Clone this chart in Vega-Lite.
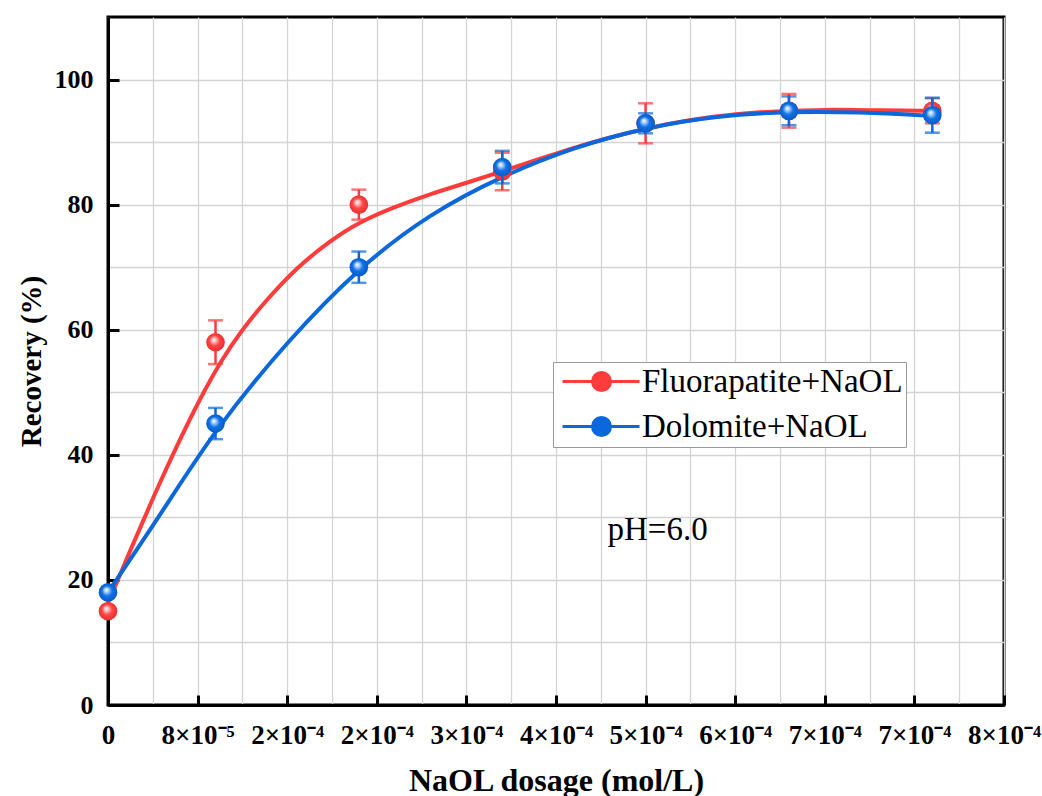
{
  "$schema": "https://vega.github.io/schema/vega-lite/v6.json",
  "width": 896,
  "height": 688,
  "autosize": {"type": "none"},
  "padding": {"left": 108, "top": 17, "right": 38, "bottom": 91},
  "background": "white",
  "config": {
    "view": {"stroke": "black", "strokeWidth": 3},
    "font": "Liberation Serif"
  },
  "datasets": {
    "curves": [
      {"s": "Fluorapatite+NaOL", "x": 0, "y": 16.3},
      {"s": "Fluorapatite+NaOL", "x": 0.00002054, "y": 25},
      {"s": "Fluorapatite+NaOL", "x": 0.00004107, "y": 33.5},
      {"s": "Fluorapatite+NaOL", "x": 0.00006161, "y": 41.5},
      {"s": "Fluorapatite+NaOL", "x": 0.00008214, "y": 49},
      {"s": "Fluorapatite+NaOL", "x": 0.00010179, "y": 55.3},
      {"s": "Fluorapatite+NaOL", "x": 0.00011964, "y": 60},
      {"s": "Fluorapatite+NaOL", "x": 0.00014018, "y": 64.5},
      {"s": "Fluorapatite+NaOL", "x": 0.00016875, "y": 70},
      {"s": "Fluorapatite+NaOL", "x": 0.00019821, "y": 74.2},
      {"s": "Fluorapatite+NaOL", "x": 0.00022411, "y": 77.2},
      {"s": "Fluorapatite+NaOL", "x": 0.00025536, "y": 79.6},
      {"s": "Fluorapatite+NaOL", "x": 0.0002875, "y": 81.7},
      {"s": "Fluorapatite+NaOL", "x": 0.00032054, "y": 83.5},
      {"s": "Fluorapatite+NaOL", "x": 0.00035179, "y": 85.3},
      {"s": "Fluorapatite+NaOL", "x": 0.0004, "y": 88.2},
      {"s": "Fluorapatite+NaOL", "x": 0.00044018, "y": 90.4},
      {"s": "Fluorapatite+NaOL", "x": 0.00048036, "y": 92.2},
      {"s": "Fluorapatite+NaOL", "x": 0.00052054, "y": 93.6},
      {"s": "Fluorapatite+NaOL", "x": 0.00056071, "y": 94.5},
      {"s": "Fluorapatite+NaOL", "x": 0.00060089, "y": 95.0},
      {"s": "Fluorapatite+NaOL", "x": 0.00064107, "y": 95.2},
      {"s": "Fluorapatite+NaOL", "x": 0.00068125, "y": 95.1},
      {"s": "Fluorapatite+NaOL", "x": 0.00073393, "y": 95.0},
      {"s": "Dolomite+NaOL", "x": 0, "y": 18.0},
      {"s": "Dolomite+NaOL", "x": 0.00004821, "y": 30.8},
      {"s": "Dolomite+NaOL", "x": 0.00009643, "y": 44.3},
      {"s": "Dolomite+NaOL", "x": 0.00016071, "y": 58.3},
      {"s": "Dolomite+NaOL", "x": 0.00022411, "y": 70.0},
      {"s": "Dolomite+NaOL", "x": 0.0002875, "y": 78.6},
      {"s": "Dolomite+NaOL", "x": 0.00035179, "y": 84.6},
      {"s": "Dolomite+NaOL", "x": 0.00041607, "y": 89.2},
      {"s": "Dolomite+NaOL", "x": 0.00047946, "y": 92.3},
      {"s": "Dolomite+NaOL", "x": 0.00054375, "y": 94.2},
      {"s": "Dolomite+NaOL", "x": 0.00060804, "y": 94.9},
      {"s": "Dolomite+NaOL", "x": 0.00067143, "y": 94.8},
      {"s": "Dolomite+NaOL", "x": 0.00073571, "y": 94.2}
    ],
    "points": [
      {"s": "Fluorapatite+NaOL", "x": 0, "y": 15, "err": 0},
      {"s": "Fluorapatite+NaOL", "x": 0.000096, "y": 58, "err": 3.5},
      {"s": "Fluorapatite+NaOL", "x": 0.000224, "y": 80, "err": 2.4},
      {"s": "Fluorapatite+NaOL", "x": 0.000352, "y": 85.3, "err": 3},
      {"s": "Fluorapatite+NaOL", "x": 0.00048, "y": 93, "err": 3.2},
      {"s": "Fluorapatite+NaOL", "x": 0.000608, "y": 95, "err": 2.7},
      {"s": "Fluorapatite+NaOL", "x": 0.000736, "y": 95, "err": 2},
      {"s": "Dolomite+NaOL", "x": 0, "y": 18, "err": 0},
      {"s": "Dolomite+NaOL", "x": 0.000096, "y": 45, "err": 2.5},
      {"s": "Dolomite+NaOL", "x": 0.000224, "y": 70, "err": 2.5},
      {"s": "Dolomite+NaOL", "x": 0.000352, "y": 86, "err": 2.6},
      {"s": "Dolomite+NaOL", "x": 0.00048, "y": 93, "err": 1.6},
      {"s": "Dolomite+NaOL", "x": 0.000608, "y": 95, "err": 2.3},
      {"s": "Dolomite+NaOL", "x": 0.000736, "y": 94.3, "err": 2.8}
    ],
    "notes": [
      {"label": "pH=6.0", "x": 0.000446, "y": 26.4}
    ]
  },
  "encoding": {
    "x": {
      "field": "x", "type": "quantitative",
      "title": "NaOL dosage (mol/L)",
      "scale": {"domain": [0, 0.0008], "nice": false, "zero": false},
      "axis": {
        "values": [0, 0.00004, 0.00008, 0.00012, 0.00016, 0.0002, 0.00024, 0.00028, 0.00032, 0.00036, 0.0004, 0.00044, 0.00048, 0.00052, 0.00056, 0.0006, 0.00064, 0.00068, 0.00072, 0.00076, 0.0008],
        "labelExpr": "abs(datum.value/0.00008 - round(datum.value/0.00008)) < 0.01 ? ['0','8×10⁻⁵','2×10⁻⁴','2×10⁻⁴','3×10⁻⁴','4×10⁻⁴','5×10⁻⁴','6×10⁻⁴','7×10⁻⁴','7×10⁻⁴','8×10⁻⁴'][round(datum.value/0.00008)] : ''",
        "labelFlush": false,
        "labelOverlap": false,
        "labelFont": "Liberation Serif",
        "labelFontWeight": "bold",
        "labelFontSize": 27,
        "labelColor": "black",
        "labelPadding": 27,
        "tickSize": -10,
        "tickWidth": 3,
        "tickColor": {"condition": {"test": "abs(datum.value/0.00008 - round(datum.value/0.00008)) < 0.01", "value": "black"}, "value": "transparent"},
        "domainColor": "black",
        "domainWidth": 3,
        "grid": true,
        "gridColor": "#d4d4d4",
        "gridWidth": 1.3,
        "titleFont": "Liberation Serif",
        "titleFontWeight": "bold",
        "titleFontSize": 32,
        "titleColor": "black",
        "titleX": 448,
        "titleY": 85,
        "titleBaseline": "alphabetic",
        "titleAlign": "center"
      }
    },
    "y": {
      "field": "y", "type": "quantitative",
      "title": "Recovery (%)",
      "scale": {"domain": [0, 110], "nice": false},
      "axis": {
        "values": [0, 10, 20, 30, 40, 50, 60, 70, 80, 90, 100],
        "labelExpr": "datum.value % 20 == 0 ? datum.value : ''",
        "labelFlush": false,
        "labelOverlap": false,
        "labelFont": "Liberation Serif",
        "labelFontWeight": "bold",
        "labelFontSize": 26,
        "labelColor": "black",
        "labelPadding": 26,
        "tickSize": -11,
        "tickWidth": 3,
        "tickColor": {"condition": {"test": "datum.value % 20 == 0", "value": "black"}, "value": "transparent"},
        "domainColor": "black",
        "domainWidth": 3,
        "grid": true,
        "gridColor": "#d4d4d4",
        "gridWidth": 1.3,
        "titleFont": "Liberation Serif",
        "titleFontWeight": "bold",
        "titleFontSize": 29,
        "titleColor": "black",
        "titleX": -77,
        "titleY": 344,
        "titleBaseline": "middle",
        "titleAlign": "center",
        "titleAngle": -90
      }
    }
  },
  "layer": [
    {
      "data": {"name": "curves"},
      "mark": {"type": "line", "interpolate": "basis", "strokeWidth": 4},
      "encoding": {
        "color": {
          "field": "s", "type": "nominal",
          "scale": {"domain": ["Fluorapatite+NaOL", "Dolomite+NaOL"], "range": ["#ff3b3b", "#0a68dc"]},
          "legend": {
            "title": null,
            "orient": "none",
            "legendX": 445,
            "legendY": 345,
            "symbolType": "M-1,0L6.7,0M2.0,0A0.9,0.9,0,1,0,3.8,0A0.9,0.9,0,1,0,2.0,0Z",
            "symbolSize": 400,
            "symbolStrokeWidth": 3,
            "labelFont": "Liberation Serif",
            "labelFontSize": 33,
            "labelColor": "black",
            "labelOffset": 53,
            "labelLimit": 500,
            "fillColor": "white",
            "strokeColor": "#9a9a9a",
            "padding": 3,
            "rowPadding": 11,
            "encode": {"symbols": {"update": {"fill": {"scale": "color", "field": "value"}}}}
          }
        }
      }
    },
    {
      "data": {"name": "points"},
      "transform": [{"filter": "datum.s == 'Fluorapatite+NaOL'"}],
      "mark": {"type": "errorbar", "ticks": true, "color": "#ff3b3b", "thickness": 2.5, "size": 15},
      "encoding": {
        "yError": {"field": "err"}
      }
    },
    {
      "data": {"name": "points"},
      "transform": [{"filter": "datum.s == 'Fluorapatite+NaOL'"}],
      "mark": {
        "type": "point", "shape": "circle", "filled": true, "size": 346, "opacity": 1, "strokeWidth": 0,
        "fill": {"gradient": "radial", "x1": 0.4, "y1": 0.35, "r1": 0, "x2": 0.5, "y2": 0.5, "r2": 0.55,
          "stops": [{"offset": 0, "color": "#ffffff"}, {"offset": 0.18, "color": "#ffc8c8"}, {"offset": 0.5, "color": "#ff4646"}, {"offset": 1, "color": "#e82a2a"}]}
      }
    },
    {
      "data": {"name": "points"},
      "transform": [{"filter": "datum.s == 'Dolomite+NaOL'"}],
      "mark": {"type": "errorbar", "ticks": true, "color": "#0a68dc", "thickness": 2.5, "size": 15},
      "encoding": {
        "yError": {"field": "err"}
      }
    },
    {
      "data": {"name": "points"},
      "transform": [{"filter": "datum.s == 'Dolomite+NaOL'"}],
      "mark": {
        "type": "point", "shape": "circle", "filled": true, "size": 346, "opacity": 1, "strokeWidth": 0,
        "fill": {"gradient": "radial", "x1": 0.4, "y1": 0.35, "r1": 0, "x2": 0.5, "y2": 0.5, "r2": 0.55,
          "stops": [{"offset": 0, "color": "#ffffff"}, {"offset": 0.18, "color": "#b8d8ff"}, {"offset": 0.5, "color": "#1272e4"}, {"offset": 1, "color": "#0058c8"}]}
      }
    },
    {
      "data": {"name": "notes"},
      "mark": {"type": "text", "font": "Liberation Serif", "fontSize": 33, "color": "black", "align": "left", "baseline": "alphabetic"},
      "encoding": {
        "text": {"field": "label"}
      }
    }
  ]
}
